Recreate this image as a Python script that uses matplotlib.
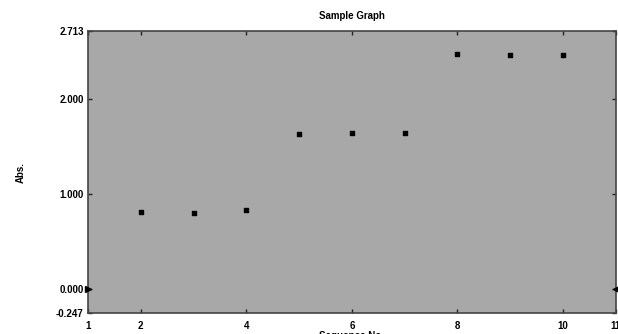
import matplotlib.pyplot as plt

seq_no = [2, 3, 4, 5, 6, 7, 8, 9, 10]
absorb = [0.81, 0.80, 0.83, 1.63, 1.64, 1.64, 2.47, 2.46, 2.46]
x_ticks = [1, 2, 4, 6, 8, 10, 11]
y_ticks = [-0.247, 0.0, 1.0, 2.0, 2.713]
y_labels = ['-0.247', '0.000', '1.000', '2.000', '2.713']
baseline = 0.0

plt.rcParams['font.family'] = ['Liberation Sans', 'DejaVu Sans']
plt.rcParams['font.weight'] = 'bold'

fig = plt.figure(figsize=(6.18, 3.34), dpi=100)
ax = fig.add_axes([0.1424, 0.063, 0.854, 0.844])
ax.set_facecolor('#a8a8a8')

ax.scatter(seq_no, absorb, marker='s', s=10, color='black', zorder=3)

# baseline markers at both ends
ax.plot([1], [baseline], marker='>', color='black', markersize=4, clip_on=False, zorder=4)
ax.plot([11], [baseline], marker='<', color='black', markersize=4, clip_on=False, zorder=4)

ax.set_xlim(1, 11)
ax.set_ylim(-0.247, 2.713)
ax.set_xticks(x_ticks)
ax.set_xticklabels([str(t) for t in x_ticks])
ax.set_yticks(y_ticks)
ax.set_yticklabels(y_labels)
ax.tick_params(direction='in', length=3, width=1, labelsize=7, color='#222222',
               top=True, right=True)
ax.tick_params(axis='x', pad=6)
ax.tick_params(axis='y', pad=3)

for s in ax.spines.values():
    s.set_color('#444444')
    s.set_linewidth(1.2)

ax.set_title('Sample Graph', fontsize=7, fontweight='bold', pad=9)
ax.set_xlabel('Sequence No.', fontsize=7, fontweight='bold', labelpad=0)
ax.set_ylabel('Abs.', fontsize=7, fontweight='bold', labelpad=22)

fig.savefig('out.png', dpi=100)
